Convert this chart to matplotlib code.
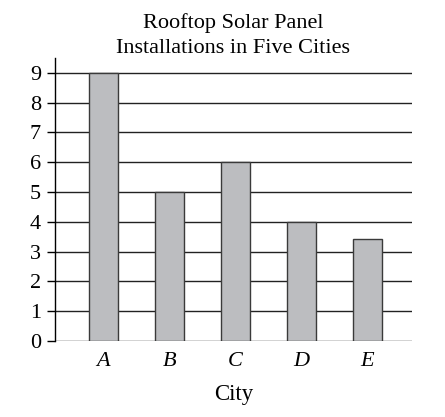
import matplotlib.pyplot as plt

# datos de la gráfica
ciudades = ["A", "B", "C", "D", "E"]
instalaciones = [9, 5, 6, 4, 3.42]
ticks_y = [0, 1, 2, 3, 4, 5, 6, 7, 8, 9]

plt.rcParams["font.family"] = ["Liberation Serif", "DejaVu Serif"]

fig = plt.figure(figsize=(4.45, 4.17), dpi=100)
ax = fig.add_axes([0.1236, 0.1823, 0.8022, 0.6787])

# líneas horizontales (debajo de las barras)
for t in ticks_y:
    ax.axhline(t, color="#222222", linewidth=1.0, zorder=1)

x = list(range(len(ciudades)))
ax.bar(x, instalaciones, width=0.44, color="#bcbdc0", edgecolor="#3a3a3a",
       linewidth=1.0, zorder=2)

ax.set_xlim(-0.735, 4.674)
ax.set_ylim(0, 9.5)

ax.set_yticks(ticks_y)
ax.set_yticklabels([str(t) for t in ticks_y], fontsize=16)
ax.set_xticks(x)
ax.set_xticklabels(ciudades, fontsize=16, style="italic")

ax.tick_params(axis="y", direction="out", length=6, width=1.0, pad=4)
ax.tick_params(axis="x", length=0, pad=8)

for s in ["top", "right", "bottom"]:
    ax.spines[s].set_visible(False)
ax.spines["left"].set_linewidth(1.0)

ax.set_xlabel("City", fontsize=16.5, labelpad=9)
ax.set_title("Rooftop Solar Panel\nInstallations in Five Cities", fontsize=16,
             linespacing=1.4, pad=3)

fig.savefig("out.png", dpi=100)
